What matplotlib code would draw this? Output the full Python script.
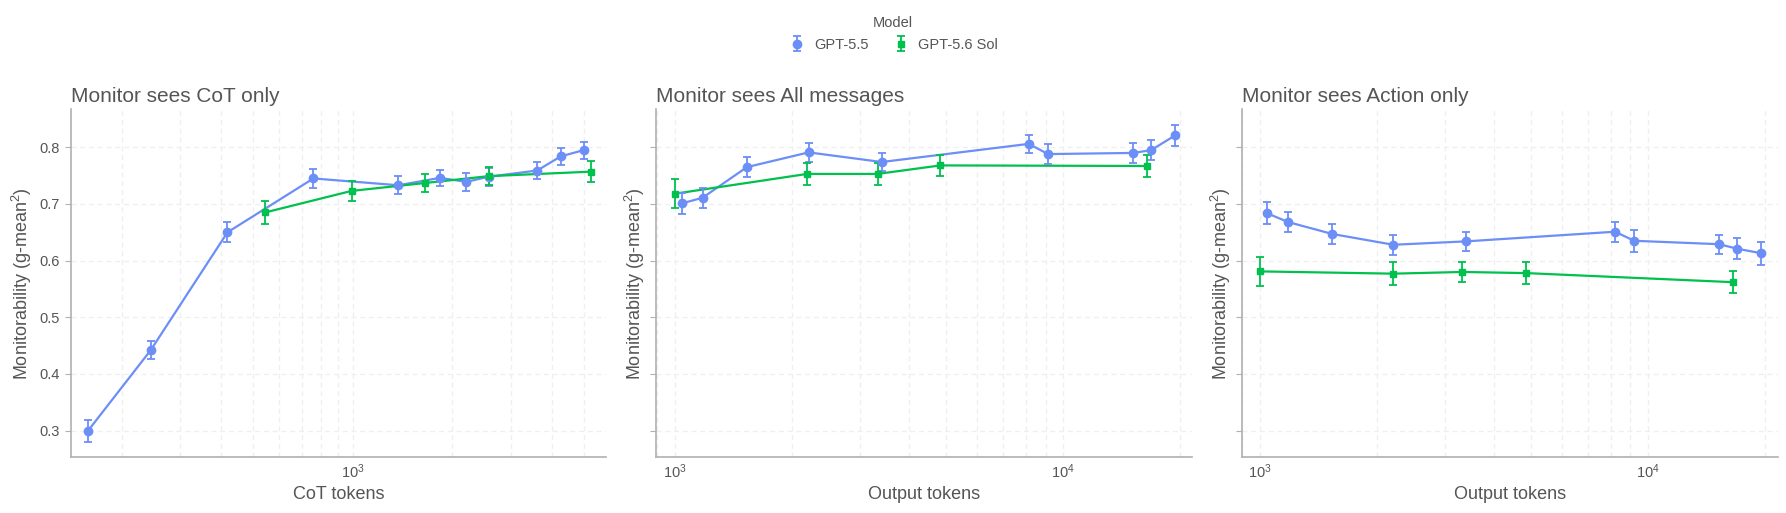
import numpy as np
import matplotlib
matplotlib.use('Agg')
import matplotlib.pyplot as plt
from matplotlib.ticker import LogLocator, NullFormatter, LogFormatterMathtext

plt.rcParams['font.family'] = ['Liberation Sans', 'DejaVu Sans']
plt.rcParams['mathtext.fontset'] = 'custom'
plt.rcParams['mathtext.rm'] = 'Liberation Sans'
plt.rcParams['mathtext.it'] = 'Liberation Sans:italic'
plt.rcParams['text.color'] = '#555555'
plt.rcParams['axes.labelcolor'] = '#555555'
plt.rcParams['xtick.color'] = '#555555'
plt.rcParams['ytick.color'] = '#555555'

BLUE = '#6C8EF7'
GREEN = '#00C04E'
TXT = '#555555'

##### data

# panel 1: monitor sees CoT only (x = CoT tokens)
cot_gpt55_x = [158, 245, 418, 760, 1372, 1832, 2204, 2570, 3607, 4249, 4990]
cot_gpt55_y = [0.299, 0.442, 0.650, 0.745, 0.733, 0.746, 0.739, 0.748, 0.759, 0.784, 0.795]
cot_gpt55_err = [0.019, 0.016, 0.018, 0.017, 0.016, 0.014, 0.016, 0.016, 0.015, 0.015, 0.015]
cot_sol_x = [543, 991, 1654, 2570, 5230]
cot_sol_y = [0.685, 0.723, 0.737, 0.749, 0.757]
cot_sol_err = [0.020, 0.017, 0.016, 0.016, 0.018]

# panel 2: monitor sees all messages (x = output tokens)
all_gpt55_x = [1044, 1180, 1535, 2212, 3411, 8147, 9140, 15140, 16830, 19410]
all_gpt55_y = [0.701, 0.711, 0.765, 0.791, 0.774, 0.806, 0.788, 0.790, 0.795, 0.821]
all_gpt55_err = [0.018, 0.018, 0.017, 0.017, 0.016, 0.016, 0.018, 0.017, 0.018, 0.018]
all_sol_x = [1000, 2193, 3327, 4830, 16400]
all_sol_y = [0.718, 0.753, 0.753, 0.768, 0.767]
all_sol_err = [0.026, 0.020, 0.019, 0.018, 0.020]

# panel 3: monitor sees action only (x = output tokens)
act_gpt55_x = [1038, 1181, 1534, 2203, 3396, 8210, 9200, 15230, 16950, 19580]
act_gpt55_y = [0.684, 0.668, 0.647, 0.628, 0.634, 0.651, 0.635, 0.629, 0.621, 0.613]
act_gpt55_err = [0.020, 0.018, 0.018, 0.018, 0.017, 0.018, 0.019, 0.017, 0.019, 0.020]
act_sol_x = [1000, 2203, 3318, 4850, 16520]
act_sol_y = [0.581, 0.577, 0.580, 0.578, 0.562]
act_sol_err = [0.025, 0.020, 0.018, 0.020, 0.019]

titles = ['Monitor sees CoT only', 'Monitor sees All messages', 'Monitor sees Action only']
xlabels = ['CoT tokens', 'Output tokens', 'Output tokens']
ylabel = 'Monitorability (g-mean$^2$)'
model_names = ['GPT-5.5', 'GPT-5.6 Sol']

panels = [
    (cot_gpt55_x, cot_gpt55_y, cot_gpt55_err, cot_sol_x, cot_sol_y, cot_sol_err),
    (all_gpt55_x, all_gpt55_y, all_gpt55_err, all_sol_x, all_sol_y, all_sol_err),
    (act_gpt55_x, act_gpt55_y, act_gpt55_err, act_sol_x, act_sol_y, act_sol_err),
]
xlims = [(141, 5808), (897, 21400), (899, 21560)]

##### figure
W, H = 1786, 513
fig = plt.figure(figsize=(W / 100, H / 100), dpi=100)

lefts = [71.3, 656.3, 1242.3]
widths = [534.4, 535.4, 535.4]
top_px, bot_px = 109.3, 457.3

handles = None
for i, (gx, gy, ge, sx, sy, se) in enumerate(panels):
    ax = fig.add_axes([lefts[i] / W, 1 - bot_px / H, widths[i] / W, (bot_px - top_px) / H])
    ax.set_xscale('log')

    # connecting lines drawn apart so the legend shows only the error-bar symbol
    ax.plot(gx, gy, color=BLUE, lw=1.6, zorder=3)
    ax.plot(sx, sy, color=GREEN, lw=1.6, zorder=3)
    h1 = ax.errorbar(gx, gy, yerr=ge, color=BLUE, marker='o', ms=6, ls='none',
                     elinewidth=1.3, capsize=3.2, capthick=1.3, label=model_names[0], zorder=4)
    h2 = ax.errorbar(sx, sy, yerr=se, color=GREEN, marker='s', ms=5, ls='none',
                     elinewidth=1.3, capsize=3.2, capthick=1.3, label=model_names[1], zorder=4)
    if handles is None:
        handles = [h1, h2]

    ax.set_xlim(*xlims[i])
    ax.set_ylim(0.253, 0.867)
    ax.set_yticks([0.3, 0.4, 0.5, 0.6, 0.7, 0.8])

    ax.xaxis.set_major_locator(LogLocator(base=10))
    ax.xaxis.set_major_formatter(LogFormatterMathtext())
    ax.xaxis.set_minor_locator(LogLocator(base=10, subs=np.arange(2, 10)))
    ax.xaxis.set_minor_formatter(NullFormatter())

    ax.grid(True, which='both', axis='x', color='#efefef', ls=(0, (4, 3)), lw=0.9)
    ax.grid(True, which='major', axis='y', color='#efefef', ls=(0, (4, 3)), lw=0.9)
    ax.set_axisbelow(True)

    for s in ['top', 'right']:
        ax.spines[s].set_visible(False)
    for s in ['left', 'bottom']:
        ax.spines[s].set_color('#b0b0b0')
        ax.spines[s].set_linewidth(1.2)

    ax.tick_params(axis='x', which='both', length=0, labelsize=10.5, pad=4)
    ax.tick_params(axis='y', length=4, color='#b0b0b0', labelsize=10.5, pad=4)
    if i > 0:
        ax.tick_params(axis='y', labelleft=False)
        ax.set_ylabel(ylabel, fontsize=13, labelpad=3)
    else:
        ax.set_ylabel(ylabel, fontsize=13, labelpad=4)

    ax.set_xlabel(xlabels[i], fontsize=13, labelpad=3)
    ax.set_title(titles[i], loc='left', fontsize=15, color=TXT, pad=5)

leg = fig.legend(handles, model_names, title='Model', loc='upper center',
                 bbox_to_anchor=(0.5, 0.985), ncol=2, frameon=False, fontsize=10.5,
                 title_fontsize=10.5, handlelength=1.2, columnspacing=1.6,
                 handletextpad=0.6, borderaxespad=0.2)
leg.get_title().set_color(TXT)
for t in leg.get_texts():
    t.set_color(TXT)

fig.savefig('out.png', dpi=100)
